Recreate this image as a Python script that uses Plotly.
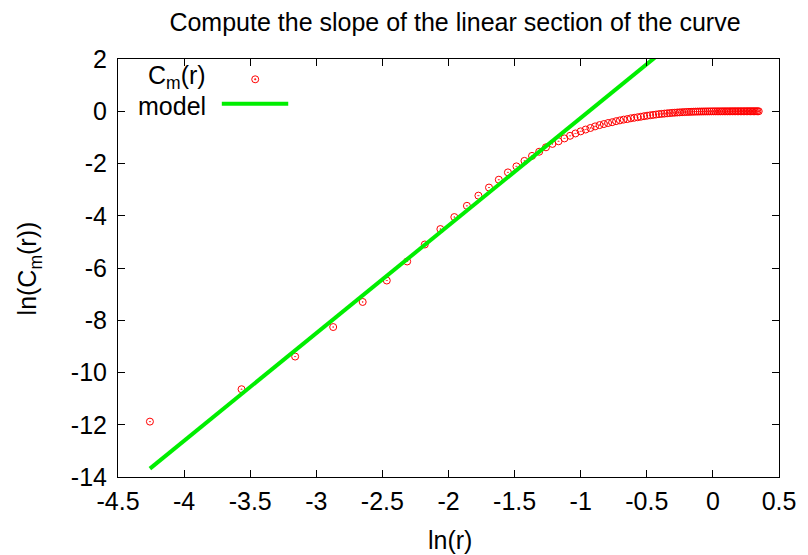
import plotly.graph_objects as go

# ln(r) for the correlation-sum radii
ln_r = [
    -4.2586, -3.5655, -3.1600, -2.8723, -2.6492, -2.4668, -2.3127, -2.1792, -2.0614, -1.9560,
    -1.8607, -1.7737, -1.6937, -1.6195, -1.5505, -1.4860, -1.4254, -1.3682, -1.3142, -1.2629,
    -1.2141, -1.1676, -1.1231, -1.0805, -1.0397, -1.0005, -0.9628, -0.9264, -0.8913, -0.8574,
    -0.8246, -0.7929, -0.7621, -0.7322, -0.7033, -0.6751, -0.6477, -0.6210, -0.5950, -0.5697,
    -0.5450, -0.5209, -0.4974, -0.4744, -0.4519, -0.4300, -0.4085, -0.3874, -0.3668, -0.3466,
    -0.3268, -0.3074, -0.2883, -0.2696, -0.2513, -0.2332, -0.2155, -0.1982, -0.1811, -0.1643,
    -0.1477, -0.1315, -0.1155, -0.0997, -0.0842, -0.0689, -0.0539, -0.0391, -0.0245, -0.0101,
    0.0041, 0.0181, 0.0319, 0.0455, 0.0589, 0.0721, 0.0852, 0.0981, 0.1108, 0.1234,
    0.1358, 0.1481, 0.1602, 0.1722, 0.1841, 0.1957, 0.2073, 0.2187, 0.2300, 0.2412,
    0.2523, 0.2632, 0.2740, 0.2847, 0.2953, 0.3057, 0.3161, 0.3264, 0.3365, 0.3466,
]

# ln(C_m(r))
ln_cm = [
    -11.88, -10.64, -9.39, -8.26, -7.30, -6.48, -5.75, -5.10, -4.51, -4.05,
    -3.62, -3.23, -2.92, -2.62, -2.34, -2.11, -1.90, -1.71, -1.55, -1.38,
    -1.25, -1.15, -1.04, -0.94, -0.85, -0.77, -0.70, -0.64, -0.58, -0.53,
    -0.49, -0.45, -0.42, -0.38, -0.35, -0.32, -0.30, -0.27, -0.25, -0.23,
    -0.21, -0.19, -0.17, -0.155, -0.14, -0.125, -0.11, -0.10, -0.09, -0.08,
    -0.07, -0.062, -0.055, -0.048, -0.042, -0.037, -0.032, -0.028, -0.024, -0.021,
    -0.018, -0.015, -0.013, -0.011, -0.009, -0.008, -0.007, -0.006, -0.005, -0.004,
    -0.003, -0.003, -0.003, -0.003, -0.003, -0.002, -0.002, -0.002, -0.002, -0.002,
    -0.001, -0.001, -0.001, -0.001, -0.001, -0.001, -0.001, -0.001, -0.001, -0.001,
    0.0, 0.0, 0.0, 0.0, 0.0, 0.0, 0.0, 0.0, 0.0, 0.0,
]

# straight-line model fitted to the linear section (end points)
model_x = [-4.2586, 0.3466]
model_y = [-13.68, 5.29]

x_tick_vals = [-4.5, -4, -3.5, -3, -2.5, -2, -1.5, -1, -0.5, 0, 0.5]
x_tick_text = ["-4.5", "-4", "-3.5", "-3", "-2.5", "-2", "-1.5", "-1", "-0.5", "0", "0.5"]
y_tick_vals = [-14, -12, -10, -8, -6, -4, -2, 0, 2]
y_tick_text = ["-14", "-12", "-10", "-8", "-6", "-4", "-2", "0", "2"]

FONT = "Liberation Sans, Arial, Helvetica, sans-serif"
FS = 25
RED = "#ff0000"
GREEN = "#00ee00"

fig = go.Figure()
fig.add_trace(go.Scatter(
    x=ln_r, y=ln_cm, mode="markers", name="C<sub>m</sub>(r)",
    marker=dict(symbol="circle-open-dot", size=7, color=RED, line=dict(width=1, color=RED)),
    showlegend=False, cliponaxis=False,
))
fig.add_trace(go.Scatter(
    x=model_x, y=model_y, mode="lines", name="model",
    line=dict(color=GREEN, width=4), showlegend=False,
))

axis_common = dict(
    showgrid=False, zeroline=False, showline=True, linecolor="black", linewidth=1,
    mirror="ticks", ticks="inside", ticklen=7, tickwidth=1, tickcolor="black",
    tickfont=dict(family=FONT, size=FS, color="black"),
)

fig.update_layout(
    width=808, height=555,
    margin=dict(l=118, r=23, t=59, b=78),
    paper_bgcolor="white", plot_bgcolor="white",
    font=dict(family=FONT, size=FS, color="black"),
    title=dict(
        text="Compute the slope of the linear section of the curve",
        font=dict(family=FONT, size=FS, color="black"),
        x=455 / 808, xanchor="center", xref="container",
        y=1 - 22 / 555, yanchor="middle", yref="container",
    ),
    xaxis=dict(range=[-4.5, 0.5], tickvals=x_tick_vals, ticktext=x_tick_text,
               ticklabelstandoff=2, **axis_common),
    yaxis=dict(range=[-14, 2], tickvals=y_tick_vals, ticktext=y_tick_text,
               ticklabelstandoff=5, **axis_common),
)

# axis titles
fig.add_annotation(text="ln(r)", xref="paper", yref="paper", x=0.503, y=-0.151,
                   xanchor="center", yanchor="middle", showarrow=False,
                   font=dict(family=FONT, size=FS, color="black"))
fig.add_annotation(text="ln(C<sub>m</sub>(r))", xref="paper", yref="paper", x=-0.134, y=0.5,
                   xanchor="center", yanchor="middle", textangle=-90, showarrow=False,
                   font=dict(family=FONT, size=FS, color="black"))

# key in the top-left corner: label text followed by its sample
fig.add_annotation(text="C<sub>m</sub>(r)", xref="paper", yref="paper",
                   x=(209 - 118.3) / 666.7, y=(477 - 77) / 418,
                   xanchor="right", yanchor="middle", showarrow=False,
                   font=dict(family=FONT, size=FS, color="black"))
fig.add_annotation(text="model", xref="paper", yref="paper",
                   x=(209 - 118.3) / 666.7, y=(477 - 106) / 418,
                   xanchor="right", yanchor="middle", showarrow=False,
                   font=dict(family=FONT, size=FS, color="black"))
key_cx = (256.7 - 118.3) / 666.7
key_cy = (477 - 79.3) / 418
fig.add_shape(type="circle", xref="paper", yref="paper", xsizemode="pixel", ysizemode="pixel",
              xanchor=key_cx, yanchor=key_cy, x0=-3.5, x1=3.5, y0=-3.5, y1=3.5,
              line=dict(color=RED, width=1))
fig.add_shape(type="circle", xref="paper", yref="paper", xsizemode="pixel", ysizemode="pixel",
              xanchor=key_cx, yanchor=key_cy, x0=-0.8, x1=0.8, y0=-0.8, y1=0.8,
              line=dict(color=RED, width=0.5), fillcolor=RED)
fig.add_shape(type="line", xref="paper", yref="paper",
              x0=(223 - 118.3) / 666.7, x1=(290 - 118.3) / 666.7,
              y0=(477 - 103.7) / 418, y1=(477 - 103.7) / 418,
              line=dict(color=GREEN, width=4))

fig.write_html("out.html")
